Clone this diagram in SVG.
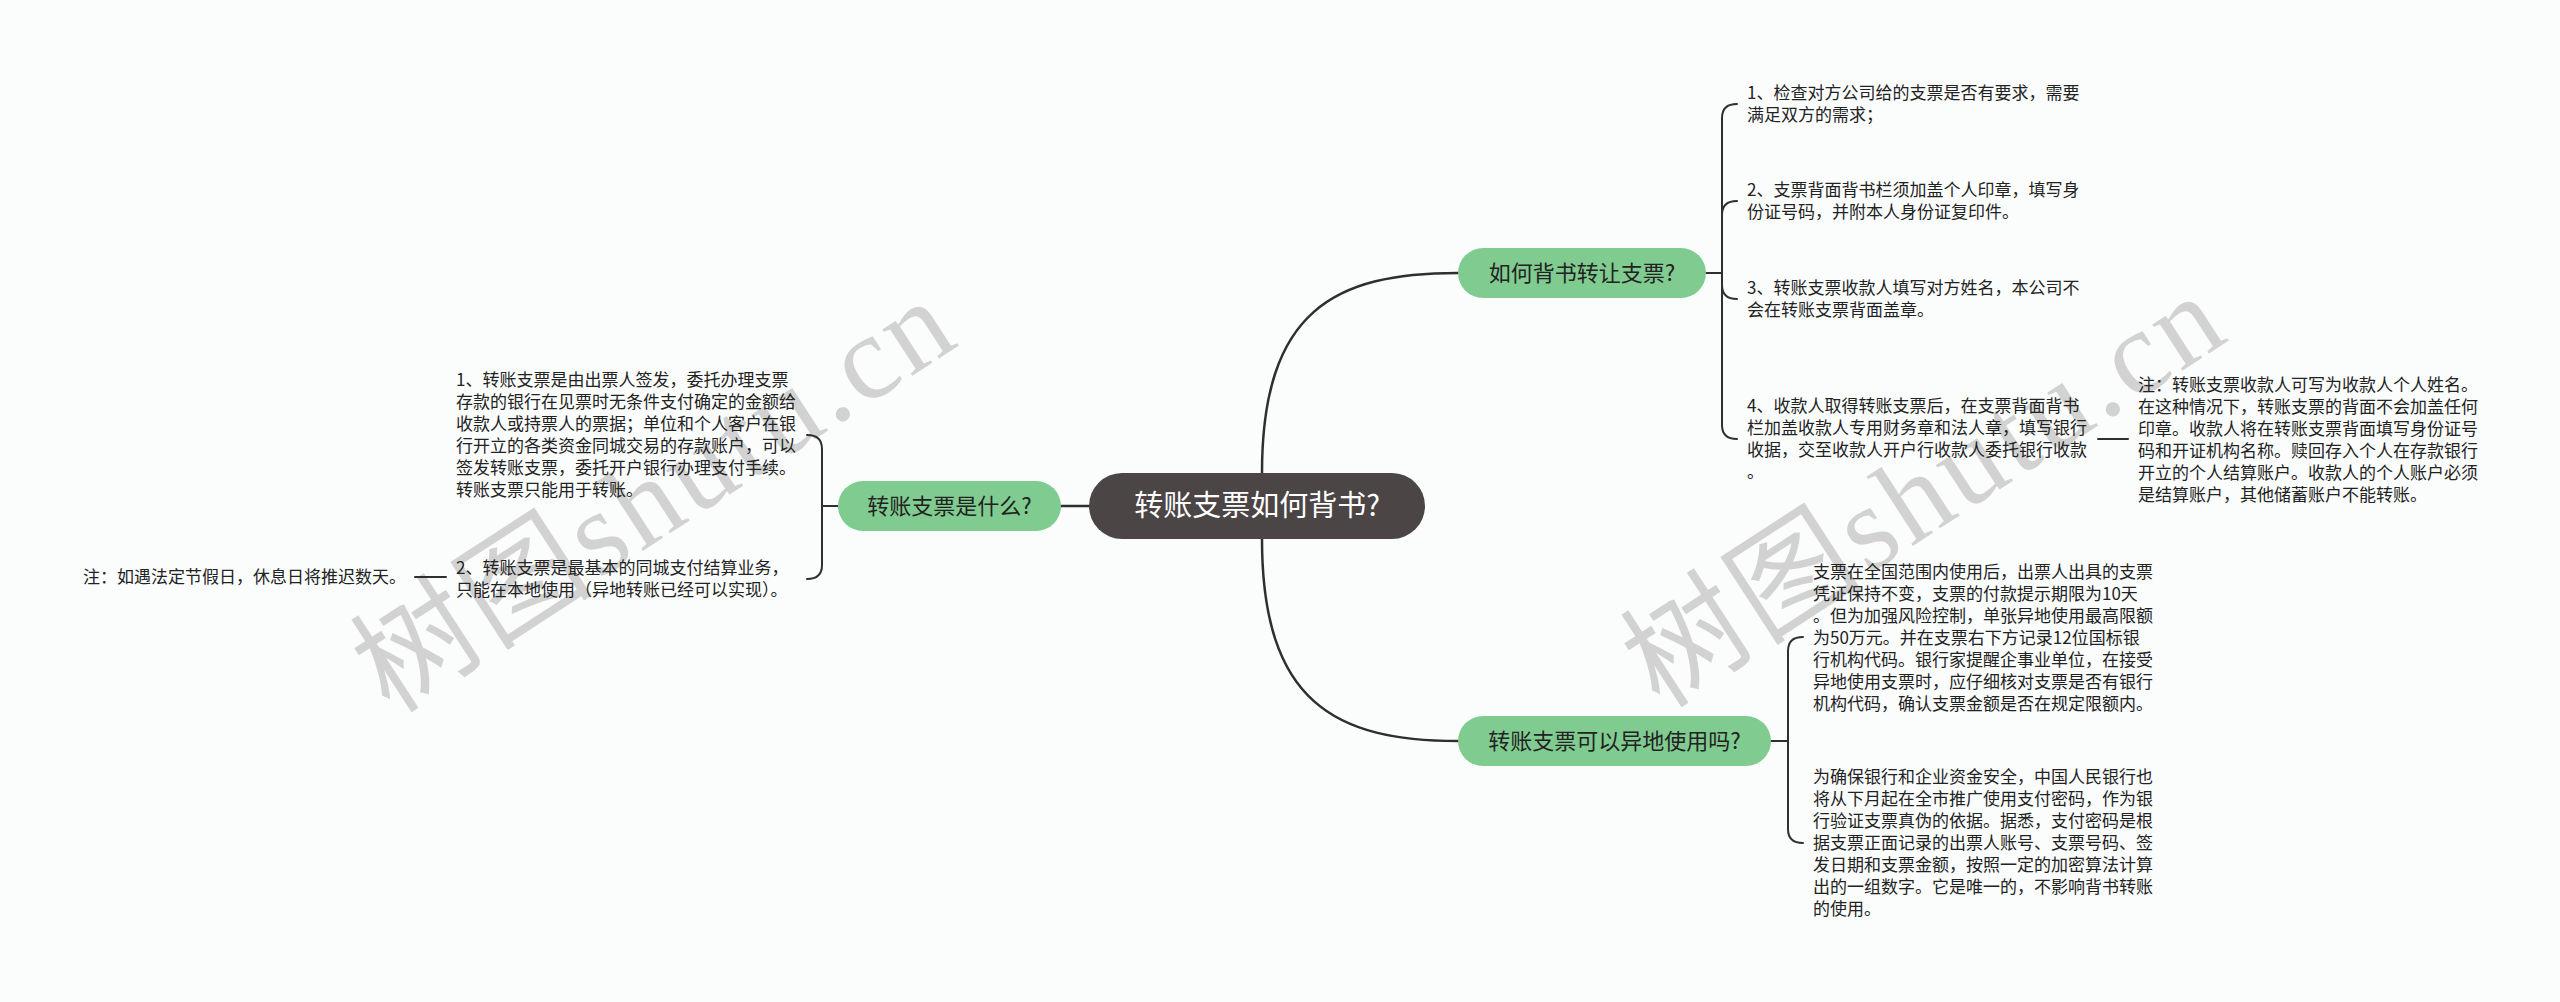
<svg xmlns="http://www.w3.org/2000/svg" width="2560" height="1002" viewBox="0 0 2560 1002">
<style>
.bg{fill:#fbfdfd}
.wm{font-family:"Noto Sans CJK SC","Noto Sans",sans-serif;font-size:120px;fill:#d2d2d2}
.wm .lat{font-family:"Liberation Serif",serif}
.conn{fill:none;stroke:#2f2f2f;stroke-width:2.5;stroke-linecap:round}
.br{fill:none;stroke:#2f2f2f;stroke-width:2;stroke-linecap:round}
.root rect{fill:#4b4546}
.root text{font-family:"Noto Sans CJK SC","Noto Sans",sans-serif;font-size:29px;fill:#ffffff;text-anchor:middle}
.main rect{fill:#80cb90}
.main text{font-family:"Noto Sans CJK SC","Noto Sans",sans-serif;font-size:22px;fill:#222222;text-anchor:middle}
.leaf text{font-family:"Noto Sans CJK SC","Noto Sans",sans-serif;font-size:17px;fill:#222222}
</style>
<rect class="bg" x="0" y="0" width="2560" height="1002"/>
<g id="watermarks">
<text class="wm" x="390" y="715" transform="rotate(-33 390 715)" textLength="680" lengthAdjust="spacing">树图<tspan class="lat">shutu.cn</tspan></text>
<text class="wm" x="1660" y="710" transform="rotate(-33 1660 710)" textLength="680" lengthAdjust="spacing">树图<tspan class="lat">shutu.cn</tspan></text>
</g>
<g id="connectors">
<path class="conn" d="M1061,506 H1089"/>
<path class="conn" d="M1262,473 C1262,310 1335,273 1458,273"/>
<path class="conn" d="M1262,539 C1262,702 1335,741 1458,741"/>
<path class="br" d="M1706,273 H1722"/>
<path class="br" d="M1722,273 V118 Q1722,104 1737,104"/>
<path class="br" d="M1722,273 V215 Q1722,201 1737,201"/>
<path class="br" d="M1722,273 V285 Q1722,299 1737,299"/>
<path class="br" d="M1722,273 V425 Q1722,439 1737,439"/>
<path class="br" d="M2098,439 H2128"/>
<path class="br" d="M1771,741 H1788"/>
<path class="br" d="M1788,741 V651 Q1788,637 1803,637"/>
<path class="br" d="M1788,741 V829 Q1788,843 1803,843"/>
<path class="br" d="M838,506 H822"/>
<path class="br" d="M822,506 V449 Q822,435 807,435"/>
<path class="br" d="M822,506 V565 Q822,579 807,579"/>
<path class="br" d="M446,577 H415"/>
</g>
<g id="root" class="root">
<rect x="1089" y="473" width="336" height="66" rx="33"/>
<text x="1257" y="516">转账支票如何背书?</text>
</g>
<g id="n-what" class="main">
<rect x="838" y="481" width="223" height="50" rx="25"/>
<text x="949.5" y="514">转账支票是什么?</text>
</g>
<g id="n-how" class="main">
<rect x="1458" y="248" width="248" height="50" rx="25"/>
<text x="1582" y="281">如何背书转让支票?</text>
</g>
<g id="n-remote" class="main">
<rect x="1458" y="716" width="313" height="50" rx="25"/>
<text x="1614.5" y="749">转账支票可以异地使用吗?</text>
</g>
<g id="t-how-1" class="leaf"><text x="1747" y="99">1、检查对方公司给的支票是否有要求，需要</text><text x="1747" y="121">满足双方的需求；</text></g>
<g id="t-how-2" class="leaf"><text x="1747" y="196">2、支票背面背书栏须加盖个人印章，填写身</text><text x="1747" y="218">份证号码，并附本人身份证复印件。</text></g>
<g id="t-how-3" class="leaf"><text x="1747" y="294">3、转账支票收款人填写对方姓名，本公司不</text><text x="1747" y="316">会在转账支票背面盖章。</text></g>
<g id="t-how-4" class="leaf"><text x="1747" y="412">4、收款人取得转账支票后，在支票背面背书</text><text x="1747" y="434">栏加盖收款人专用财务章和法人章，填写银行</text><text x="1747" y="456">收据，交至收款人开户行收款人委托银行收款</text><text x="1747" y="478">。</text></g>
<g id="t-how-4-note" class="leaf">
<text x="2138" y="391">注：转账支票收款人可写为收款人个人姓名。</text>
<text x="2138" y="413">在这种情况下，转账支票的背面不会加盖任何</text>
<text x="2138" y="435">印章。收款人将在转账支票背面填写身份证号</text>
<text x="2138" y="457">码和开证机构名称。赎回存入个人在存款银行</text>
<text x="2138" y="479">开立的个人结算账户。收款人的个人账户必须</text>
<text x="2138" y="501">是结算账户，其他储蓄账户不能转账。</text>
</g>
<g id="t-remote-1" class="leaf">
<text x="1813" y="577.5">支票在全国范围内使用后，出票人出具的支票</text>
<text x="1813" y="599.5">凭证保持不变，支票的付款提示期限为10天</text>
<text x="1813" y="621.5">。但为加强风险控制，单张异地使用最高限额</text>
<text x="1813" y="643.5">为50万元。并在支票右下方记录12位国标银</text>
<text x="1813" y="665.5">行机构代码。银行家提醒企事业单位，在接受</text>
<text x="1813" y="687.5">异地使用支票时，应仔细核对支票是否有银行</text>
<text x="1813" y="709.5">机构代码，确认支票金额是否在规定限额内。</text>
</g>
<g id="t-remote-2" class="leaf">
<text x="1813" y="783">为确保银行和企业资金安全，中国人民银行也</text>
<text x="1813" y="805">将从下月起在全市推广使用支付密码，作为银</text>
<text x="1813" y="827">行验证支票真伪的依据。据悉，支付密码是根</text>
<text x="1813" y="849">据支票正面记录的出票人账号、支票号码、签</text>
<text x="1813" y="871">发日期和支票金额，按照一定的加密算法计算</text>
<text x="1813" y="893">出的一组数字。它是唯一的，不影响背书转账</text>
<text x="1813" y="915">的使用。</text>
</g>
<g id="t-what-1" class="leaf">
<text x="456" y="386">1、转账支票是由出票人签发，委托办理支票</text>
<text x="456" y="408">存款的银行在见票时无条件支付确定的金额给</text>
<text x="456" y="430">收款人或持票人的票据；单位和个人客户在银</text>
<text x="456" y="452">行开立的各类资金同城交易的存款账户，可以</text>
<text x="456" y="474">签发转账支票，委托开户银行办理支付手续。</text>
<text x="456" y="496">转账支票只能用于转账。</text>
</g>
<g id="t-what-2" class="leaf">
<text x="456" y="574">2、转账支票是最基本的同城支付结算业务，</text>
<text x="456" y="596">只能在本地使用（异地转账已经可以实现）。</text>
</g>
<g id="t-what-2-note" class="leaf">
<text x="83" y="583">注：如遇法定节假日，休息日将推迟数天。</text>
</g>
</svg>
